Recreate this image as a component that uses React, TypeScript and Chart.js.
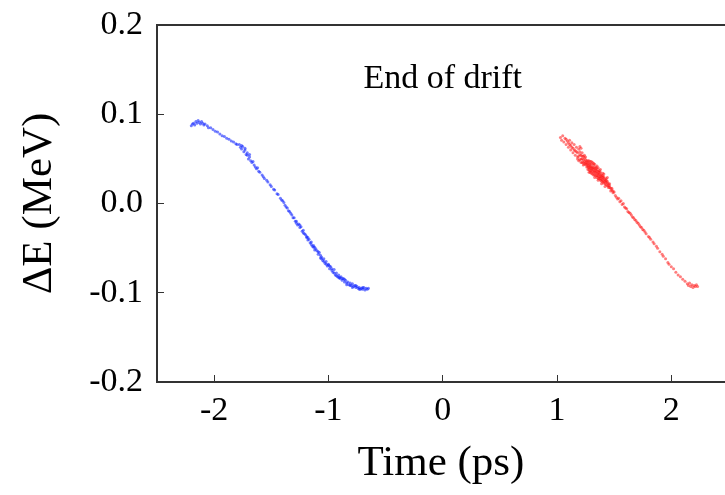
import React, { useEffect, useRef } from "react";
import { Chart, registerables } from "chart.js";

Chart.register(...registerables);

const FONT = '"Liberation Serif", "Times New Roman", serif';

const xTicks = [-2, -1, 0, 1, 2];
const yTicks = [-0.2, -0.1, 0, 0.1, 0.2];
const xTitle = "Time (ps)";
const yTitle = "ΔE (MeV)";
const annotationText = "End of drift";
const annotationTime = 0;
const annotationDE = 0.129;

// Blue bunch: [time (ps), ΔE (MeV)]
const bluePoints: [number, number][] = [
  [-2.2, 0.087], [-2.19, 0.089], [-2.18, 0.09], [-2.17, 0.088], [-2.16, 0.092], [-2.15, 0.09],
  [-2.14, 0.093], [-2.13, 0.091], [-2.12, 0.089], [-2.11, 0.092], [-2.1, 0.09], [-2.09, 0.088],
  [-2.08, 0.089], [-2.06, 0.087], [-2.05, 0.085], [-2.03, 0.085], [-2.01, 0.083], [-1.99, 0.081],
  [-1.97, 0.08], [-1.95, 0.078], [-1.93, 0.076], [-1.91, 0.075], [-1.89, 0.073], [-1.87, 0.072],
  [-1.85, 0.07], [-1.83, 0.069], [-1.81, 0.067], [-1.8, 0.066], [-1.78, 0.066], [-1.77, 0.063],
  [-1.76, 0.061], [-1.75, 0.064], [-1.74, 0.058], [-1.73, 0.06], [-1.72, 0.055], [-1.71, 0.054],
  [-1.7, 0.05], [-1.69, 0.052], [-1.68, 0.048], [-1.67, 0.046], [-1.66, 0.047], [-1.65, 0.043],
  [-1.64, 0.041], [-1.63, 0.039], [-1.62, 0.04], [-1.61, 0.036], [-1.6, 0.035], [-1.58, 0.032],
  [-1.57, 0.03], [-1.56, 0.028], [-1.54, 0.026], [-1.53, 0.024], [-1.51, 0.021], [-1.5, 0.019],
  [-1.48, 0.016], [-1.47, 0.015], [-1.45, 0.011], [-1.44, 0.01], [-1.42, 0.006], [-1.41, 0.004],
  [-1.4, 0.003], [-1.39, 0.001], [-1.38, -0.002], [-1.37, -0.004], [-1.36, -0.005], [-1.35, -0.008],
  [-1.34, -0.009], [-1.33, -0.011], [-1.32, -0.013], [-1.31, -0.016], [-1.3, -0.016], [-1.29, -0.02],
  [-1.28, -0.02], [-1.28, -0.022], [-1.27, -0.024], [-1.26, -0.023], [-1.25, -0.027], [-1.24, -0.026],
  [-1.23, -0.031], [-1.22, -0.03], [-1.21, -0.034], [-1.2, -0.035], [-1.19, -0.037], [-1.19, -0.038],
  [-1.18, -0.041], [-1.17, -0.04], [-1.16, -0.044], [-1.15, -0.043], [-1.14, -0.048], [-1.13, -0.047],
  [-1.13, -0.049], [-1.12, -0.052], [-1.11, -0.051], [-1.1, -0.053], [-1.09, -0.057], [-1.08, -0.055],
  [-1.07, -0.061], [-1.06, -0.06], [-1.06, -0.062], [-1.05, -0.064], [-1.04, -0.062], [-1.03, -0.067],
  [-1.02, -0.065], [-1.01, -0.07], [-1.0, -0.068], [-1.0, -0.069], [-0.99, -0.073], [-0.98, -0.071],
  [-0.97, -0.075], [-0.96, -0.077], [-0.95, -0.074], [-0.95, -0.078], [-0.94, -0.08], [-0.93, -0.078],
  [-0.92, -0.082], [-0.91, -0.08], [-0.9, -0.084], [-0.9, -0.083], [-0.89, -0.082], [-0.88, -0.086],
  [-0.87, -0.084], [-0.86, -0.088], [-0.85, -0.086], [-0.84, -0.089], [-0.83, -0.088], [-0.82, -0.091],
  [-0.81, -0.089], [-0.8, -0.092], [-0.79, -0.09], [-0.78, -0.093], [-0.77, -0.092], [-0.76, -0.094],
  [-0.75, -0.093], [-0.74, -0.095], [-0.73, -0.094], [-0.72, -0.096], [-0.71, -0.095], [-0.7, -0.096],
  [-0.69, -0.094], [-0.68, -0.097], [-0.67, -0.095], [-0.66, -0.096], [-0.65, -0.095],
  [-1.76, 0.065], [-1.73, 0.062], [-1.71, 0.057], [-1.69, 0.055], [-1.25, -0.024], [-1.22, -0.033],
  [-1.18, -0.038], [-1.15, -0.046], [-1.12, -0.049], [-1.09, -0.054], [-1.07, -0.058], [-1.04, -0.065],
  [-1.02, -0.068], [-0.99, -0.07], [-0.97, -0.073], [-0.93, -0.081], [-0.91, -0.083], [-0.88, -0.084],
  [-0.86, -0.085], [-0.84, -0.091], [-0.81, -0.092], [-0.79, -0.094], [-0.76, -0.092], [-0.73, -0.096],
  [-0.7, -0.094],
];

// Red bunch: [time (ps), ΔE (MeV)]
const redPoints: [number, number][] = [
  [1.03, 0.074], [1.04, 0.071], [1.05, 0.076], [1.06, 0.069], [1.07, 0.073], [1.08, 0.066],
  [1.09, 0.07], [1.1, 0.063], [1.1, 0.068], [1.11, 0.071], [1.12, 0.06], [1.12, 0.065],
  [1.13, 0.068], [1.14, 0.057], [1.14, 0.062], [1.15, 0.066], [1.16, 0.059], [1.16, 0.054],
  [1.17, 0.063], [1.18, 0.057], [1.18, 0.052], [1.19, 0.061], [1.19, 0.048], [1.2, 0.064],
  [1.21, 0.062], [1.2, 0.055], [1.21, 0.05], [1.22, 0.053], [1.22, 0.046], [1.23, 0.049],
  [1.23, 0.043], [1.24, 0.051], [1.24, 0.047], [1.25, 0.044], [1.25, 0.049], [1.26, 0.041],
  [1.26, 0.046], [1.27, 0.048], [1.27, 0.043], [1.27, 0.038], [1.28, 0.045], [1.28, 0.04],
  [1.28, 0.035], [1.29, 0.047], [1.29, 0.042], [1.29, 0.037], [1.3, 0.044], [1.3, 0.039],
  [1.3, 0.034], [1.31, 0.046], [1.31, 0.041], [1.31, 0.036], [1.32, 0.043], [1.32, 0.038],
  [1.32, 0.032], [1.33, 0.04], [1.33, 0.035], [1.33, 0.044], [1.34, 0.037], [1.34, 0.031],
  [1.34, 0.041], [1.35, 0.039], [1.35, 0.034], [1.35, 0.029], [1.36, 0.036], [1.36, 0.031],
  [1.36, 0.04], [1.37, 0.033], [1.37, 0.028], [1.37, 0.037], [1.38, 0.035], [1.38, 0.03],
  [1.38, 0.026], [1.39, 0.032], [1.39, 0.027], [1.4, 0.034], [1.4, 0.029], [1.4, 0.024],
  [1.41, 0.03], [1.41, 0.025], [1.42, 0.027], [1.42, 0.022], [1.43, 0.028], [1.43, 0.024],
  [1.44, 0.025], [1.44, 0.02], [1.45, 0.022], [1.45, 0.018], [1.46, 0.02], [1.47, 0.017],
  [1.47, 0.014], [1.48, 0.015], [1.49, 0.012], [1.5, 0.013], [1.51, 0.009], [1.52, 0.007],
  [1.25, 0.046], [1.26, 0.043], [1.27, 0.045], [1.28, 0.042], [1.28, 0.038], [1.29, 0.04],
  [1.29, 0.035], [1.3, 0.041], [1.3, 0.037], [1.31, 0.039], [1.31, 0.033], [1.32, 0.04],
  [1.32, 0.035], [1.33, 0.037], [1.33, 0.032], [1.34, 0.039], [1.34, 0.034], [1.35, 0.036],
  [1.35, 0.031], [1.36, 0.033], [1.36, 0.028], [1.37, 0.035], [1.37, 0.03], [1.38, 0.032],
  [1.38, 0.028], [1.39, 0.03], [1.39, 0.025], [1.4, 0.031], [1.4, 0.027], [1.41, 0.028],
  [1.41, 0.023], [1.42, 0.025], [1.43, 0.026], [1.43, 0.021], [1.44, 0.023], [1.45, 0.02],
  [1.46, 0.018], [1.46, 0.022], [1.48, 0.017], [1.49, 0.014],
  [1.08, 0.072], [1.11, 0.066], [1.13, 0.063], [1.15, 0.06], [1.17, 0.058], [1.2, 0.058],
  [1.22, 0.057], [1.24, 0.054],
  [1.18, 0.05], [1.19, 0.053], [1.2, 0.049], [1.21, 0.046], [1.21, 0.054], [1.22, 0.05],
  [1.23, 0.046], [1.23, 0.053], [1.24, 0.044], [1.25, 0.052], [1.26, 0.048], [1.27, 0.041],
  [1.28, 0.048], [1.29, 0.044], [1.3, 0.047], [1.32, 0.045], [1.33, 0.029], [1.35, 0.042],
  [1.36, 0.026], [1.38, 0.038], [1.39, 0.022], [1.41, 0.033], [1.42, 0.019], [1.44, 0.029],
  [1.53, 0.005], [1.54, 0.006], [1.55, 0.002], [1.56, 0.003], [1.57, -0.001], [1.58, 0.0],
  [1.59, -0.004], [1.6, -0.005], [1.61, -0.006], [1.62, -0.009], [1.63, -0.01], [1.64, -0.011],
  [1.65, -0.013], [1.66, -0.015], [1.67, -0.016], [1.68, -0.018], [1.69, -0.019], [1.7, -0.021],
  [1.71, -0.022], [1.72, -0.024], [1.73, -0.026], [1.74, -0.027], [1.75, -0.029], [1.76, -0.03],
  [1.77, -0.032], [1.78, -0.034], [1.8, -0.037], [1.81, -0.038], [1.82, -0.04], [1.84, -0.043],
  [1.85, -0.045], [1.87, -0.048], [1.88, -0.05], [1.9, -0.054], [1.92, -0.057], [1.93, -0.059],
  [1.95, -0.062], [1.97, -0.066], [1.98, -0.068], [2.0, -0.071], [2.02, -0.073], [2.04, -0.077],
  [2.06, -0.08], [2.08, -0.082], [2.1, -0.085], [2.12, -0.087], [2.14, -0.09], [2.15, -0.092],
  [2.16, -0.089], [2.17, -0.093], [2.18, -0.091], [2.19, -0.094], [2.2, -0.092], [2.21, -0.093],
  [2.22, -0.091], [2.23, -0.093],
];

export default function App() {
  const canvasRef = useRef<HTMLCanvasElement>(null);

  useEffect(() => {
    document.body.style.margin = "0";
    const canvas = canvasRef.current;
    if (!canvas) return;

    const framePlugin = {
      id: "frameAndNote",
      afterDraw(chart: any) {
        const { ctx, chartArea, scales } = chart;
        ctx.save();
        ctx.strokeStyle = "#333";
        ctx.lineWidth = 2;
        ctx.beginPath();
        ctx.moveTo(chartArea.left - 1, chartArea.top);
        ctx.lineTo(chartArea.right, chartArea.top);
        ctx.stroke();
        ctx.fillStyle = "#000";
        ctx.font = `34px ${FONT}`;
        ctx.textAlign = "center";
        ctx.textBaseline = "alphabetic";
        ctx.fillText(
          annotationText,
          scales.x.getPixelForValue(annotationTime),
          scales.y.getPixelForValue(annotationDE)
        );
        ctx.restore();
      },
    };

    const chart = new Chart(canvas, {
      type: "scatter",
      data: {
        datasets: [
          {
            label: "blue",
            data: bluePoints.map(([x, y]) => ({ x, y })),
            backgroundColor: "rgba(20,40,255,0.6)",
            borderWidth: 0,
            pointRadius: 1.5,
            pointHoverRadius: 1.5,
          },
          {
            label: "red",
            data: redPoints.map(([x, y]) => ({ x, y })),
            backgroundColor: "rgba(255,20,20,0.55)",
            borderWidth: 0,
            pointRadius: 1.5,
            pointHoverRadius: 1.5,
          },
        ],
      },
      options: {
        animation: false,
        responsive: false,
        layout: { autoPadding: false, padding: { top: 25, right: 0, left: 0, bottom: 0 } },
        plugins: { legend: { display: false }, tooltip: { enabled: false } },
        scales: {
          x: {
            type: "linear",
            min: -2.5,
            max: 2.47,
            afterBuildTicks: (s: any) => {
              s.ticks = xTicks.map((v) => ({ value: v }));
            },
            afterFit: (s: any) => {
              s.height = 113;
              s.paddingLeft = 0;
              s.paddingRight = 0;
            },
            ticks: {
              color: "#000",
              font: { family: FONT, size: 34 },
              padding: 16,
              maxRotation: 0,
              callback: (v: any) => String(v),
            },
            grid: { drawOnChartArea: false, tickLength: -7, color: "#333", lineWidth: 1 },
            border: { color: "#333", width: 2 },
            title: {
              display: true,
              text: xTitle,
              color: "#000",
              font: { family: FONT, size: 43 },
              padding: { top: 0, bottom: 5 },
            },
          },
          y: {
            type: "linear",
            min: -0.2,
            max: 0.2,
            afterBuildTicks: (s: any) => {
              s.ticks = yTicks.map((v) => ({ value: v }));
            },
            afterFit: (s: any) => {
              s.width = 157;
              s.paddingTop = 0;
              s.paddingBottom = 0;
            },
            ticks: {
              color: "#000",
              font: { family: FONT, size: 34 },
              padding: 21,
              callback: (v: any) => Number(v).toFixed(1),
            },
            grid: { drawOnChartArea: false, tickLength: -7, color: "#333", lineWidth: 1 },
            border: { color: "#333", width: 2 },
            title: {
              display: true,
              text: yTitle,
              color: "#000",
              font: { family: FONT, size: 43 },
              padding: { top: 14, bottom: 0 },
            },
          },
        },
      },
      plugins: [framePlugin],
    });

    return () => chart.destroy();
  }, []);

  return (
    <div style={{ width: 725, height: 495, background: "#fff" }}>
      <canvas ref={canvasRef} width={725} height={495} style={{ display: "block" }} />
    </div>
  );
}
